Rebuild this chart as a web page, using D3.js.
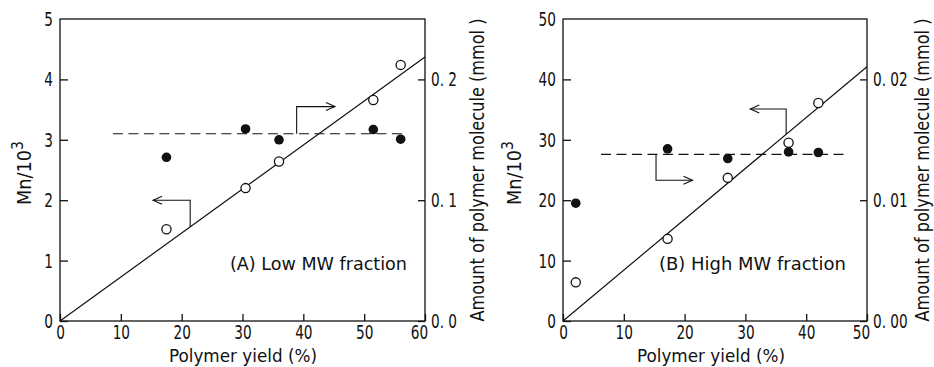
<!DOCTYPE html>
<html lang="en">
<head>
<meta charset="UTF-8">
<title>Mn and polymer molecules vs yield</title>
<script src="https://d3js.org/d3.v7.min.js"></script>
<style>
    body { margin: 0; background: #fff; }
    svg text {
        font-family: "DejaVu Sans Condensed", "Liberation Sans Narrow", "Liberation Sans", sans-serif;
        font-stretch: condensed;
        fill: #111;
    }
    .axis path, .axis line { stroke: #111; stroke-width: 1.3px; }
    .axis text {
        font-size: 20px;
        transform-box: fill-box;
        transform: scaleX(0.76);
    }
    .axis.x text { transform-origin: center; }
    .axis.yl text { transform-origin: right center; }
    .axis.yr text { transform-origin: left center; }
    .fit { fill: none; stroke: #111; stroke-width: 1.2px; }
    .level { fill: none; stroke: #111; stroke-width: 1.2px; stroke-dasharray: 10 5.5; }
    .arrow { fill: none; stroke: #111; stroke-width: 1.1px; }
</style>
</head>
<body>
<div id="chart"></div>
<script>
// Panel A: low MW fraction
const yieldA = [17.5, 30.5, 36, 51.5, 56];
const mnA = [1.52, 2.2, 2.64, 3.66, 4.24];
const amountA = [0.1355, 0.159, 0.150, 0.1585, 0.1505];
const fitA = [[0, 0], [60, 4.37]];
const levelA = { value: 0.155, from: 8.7, to: 57 };
// arrows: start x, turn level, end x
const arrowLeftA = { x0: 21.4, y1: 2.0, x1: 15.3 };
const arrowRightA = { x0: 38.9, y1: 0.1775, x1: 45.2 };

// Panel B: high MW fraction
const yieldB = [2.1, 17.2, 27.1, 37.1, 42];
const mnB = [6.4, 13.6, 23.7, 29.5, 36.1];
const amountB = [0.00975, 0.01425, 0.01345, 0.0140, 0.01395];
const fitB = [[0, 0], [50, 42.1]];
const levelB = { value: 0.0138, from: 6.25, to: 46.9 };
const arrowLeftB = { x0: 36.7, y1: 35.1, x1: 30.8 };
const arrowRightB = { x0: 15.3, y1: 0.01165, x1: 21.3 };

const xTicksA = [0, 10, 20, 30, 40, 50, 60];
const yTicksA = [0, 1, 2, 3, 4, 5];
const rTicksA = [0, 0.1, 0.2];
const rLabelsA = ["0. 0", "0. 1", "0. 2"];

const xTicksB = [0, 10, 20, 30, 40, 50];
const yTicksB = [0, 10, 20, 30, 40, 50];
const rTicksB = [0, 0.01, 0.02];
const rLabelsB = ["0. 00", "0. 01", "0. 02"];

const svg = d3.select("#chart").append("svg")
    .attr("width", 934)
    .attr("height", 367);

function drawPanel(cfg) {
    const x = d3.scaleLinear().domain(cfg.xDomain).range([cfg.left, cfg.right]);
    const y = d3.scaleLinear().domain(cfg.yDomain).range([321, 19]);
    const r = d3.scaleLinear().domain(cfg.rDomain).range([321, 19]);
    const g = svg.append("g");

    // frame
    g.append("rect")
        .attr("x", cfg.left).attr("y", 19)
        .attr("width", cfg.right - cfg.left).attr("height", 302)
        .attr("fill", "none").attr("stroke", "#111").attr("stroke-width", 1.3);

    const bottom = g.append("g").attr("class", "axis x")
        .attr("transform", "translate(0,321)")
        .call(d3.axisBottom(x).tickValues(cfg.xTicks).tickSize(-7).tickPadding(4).tickFormat(d3.format("d")));
    bottom.select(".domain").remove();
    bottom.selectAll(".tick").filter((d, i, n) => i === n.length - 1)
        .select("text").attr("dx", -6);

    const leftAx = g.append("g").attr("class", "axis yl")
        .attr("transform", `translate(${cfg.left},0)`)
        .call(d3.axisLeft(y).tickValues(cfg.yTicks).tickSize(-8).tickPadding(7).tickFormat(d3.format("d")));
    leftAx.select(".domain").remove();
    leftAx.selectAll(".tick").filter(d => d === cfg.yDomain[1]).select("line").remove();

    const rightAx = g.append("g").attr("class", "axis yr")
        .attr("transform", `translate(${cfg.right},0)`)
        .call(d3.axisRight(r).tickValues(cfg.rTicks).tickSize(-7).tickPadding(6)
            .tickFormat((d, i) => cfg.rLabels[i]));
    rightAx.select(".domain").remove();

    // fitted line for Mn
    g.append("path").attr("class", "fit")
        .attr("d", d3.line().x(d => x(d[0])).y(d => y(d[1]))(cfg.fit));

    // dashed level for amount of molecules
    g.append("line").attr("class", "level")
        .attr("x1", x(cfg.level.from)).attr("x2", x(cfg.level.to))
        .attr("y1", r(cfg.level.value)).attr("y2", r(cfg.level.value));

    // arrows
    const slope = cfg.fit[1][1] / cfg.fit[1][0];
    function arrow(px0, py0, py1, px1) {
        const dir = px1 < px0 ? 1 : -1;
        g.append("path").attr("class", "arrow")
            .attr("d", `M${px0},${py0}V${py1}H${px1}`);
        g.append("path").attr("class", "arrow")
            .attr("d", `M${px1 + dir * 9},${py1 - 4}L${px1},${py1}L${px1 + dir * 9},${py1 + 4}`);
    }
    arrow(x(cfg.arrowLeft.x0), y(cfg.arrowLeft.x0 * slope), y(cfg.arrowLeft.y1), x(cfg.arrowLeft.x1));
    arrow(x(cfg.arrowRight.x0), r(cfg.level.value), r(cfg.arrowRight.y1), x(cfg.arrowRight.x1));

    // filled circles: amount of polymer molecule (right axis)
    g.selectAll(".filled").data(cfg.yields).enter().append("circle")
        .attr("cx", d => x(d)).attr("cy", (d, i) => r(cfg.amount[i]))
        .attr("r", 4.8).attr("fill", "#111");

    // open circles: Mn (left axis)
    g.selectAll(".open").data(cfg.yields).enter().append("circle")
        .attr("cx", d => x(d)).attr("cy", (d, i) => y(cfg.mn[i]))
        .attr("r", 4.6).attr("fill", "#fff").attr("stroke", "#111").attr("stroke-width", 1.3);

    // panel caption
    g.append("text")
        .attr("x", cfg.captionX).attr("y", 270)
        .attr("font-size", 18)
        .attr("textLength", cfg.captionLen).attr("lengthAdjust", "spacingAndGlyphs")
        .text(cfg.caption);

    // axis titles
    g.append("text")
        .attr("x", cfg.xTitleX).attr("y", 362)
        .attr("text-anchor", "middle").attr("font-size", 18)
        .attr("textLength", 148).attr("lengthAdjust", "spacingAndGlyphs")
        .text("Polymer yield (%)");

    const mn = g.append("text")
        .attr("transform", `translate(${cfg.mnX},173) rotate(-90)`)
        .attr("text-anchor", "middle").attr("font-size", 19)
        .attr("textLength", 64).attr("lengthAdjust", "spacingAndGlyphs");
    mn.append("tspan").text("Mn/10");
    mn.append("tspan").attr("dy", -8).attr("font-size", 15).text("3");

    g.append("text")
        .attr("transform", `translate(${cfg.amountX},170) rotate(-90)`)
        .attr("text-anchor", "middle").attr("font-size", 19)
        .attr("textLength", 303).attr("lengthAdjust", "spacingAndGlyphs")
        .text("Amount of polymer molecule (mmol )");
}

drawPanel({
    left: 60, right: 425,
    xDomain: [0, 60], yDomain: [0, 5], rDomain: [0, 0.25],
    xTicks: xTicksA, yTicks: yTicksA, rTicks: rTicksA, rLabels: rLabelsA,
    yields: yieldA, mn: mnA, amount: amountA,
    fit: fitA, level: levelA,
    arrowLeft: arrowLeftA, arrowRight: arrowRightA,
    caption: "(A) Low MW fraction", captionX: 230, captionLen: 177,
    xTitleX: 243, mnX: 31, amountX: 484
});

drawPanel({
    left: 563, right: 867,
    xDomain: [0, 50], yDomain: [0, 50], rDomain: [0, 0.025],
    xTicks: xTicksB, yTicks: yTicksB, rTicks: rTicksB, rLabels: rLabelsB,
    yields: yieldB, mn: mnB, amount: amountB,
    fit: fitB, level: levelB,
    arrowLeft: arrowLeftB, arrowRight: arrowRightB,
    caption: "(B) High MW fraction", captionX: 659, captionLen: 187,
    xTitleX: 711, mnX: 521, amountX: 929
});
</script>
</body>
</html>
